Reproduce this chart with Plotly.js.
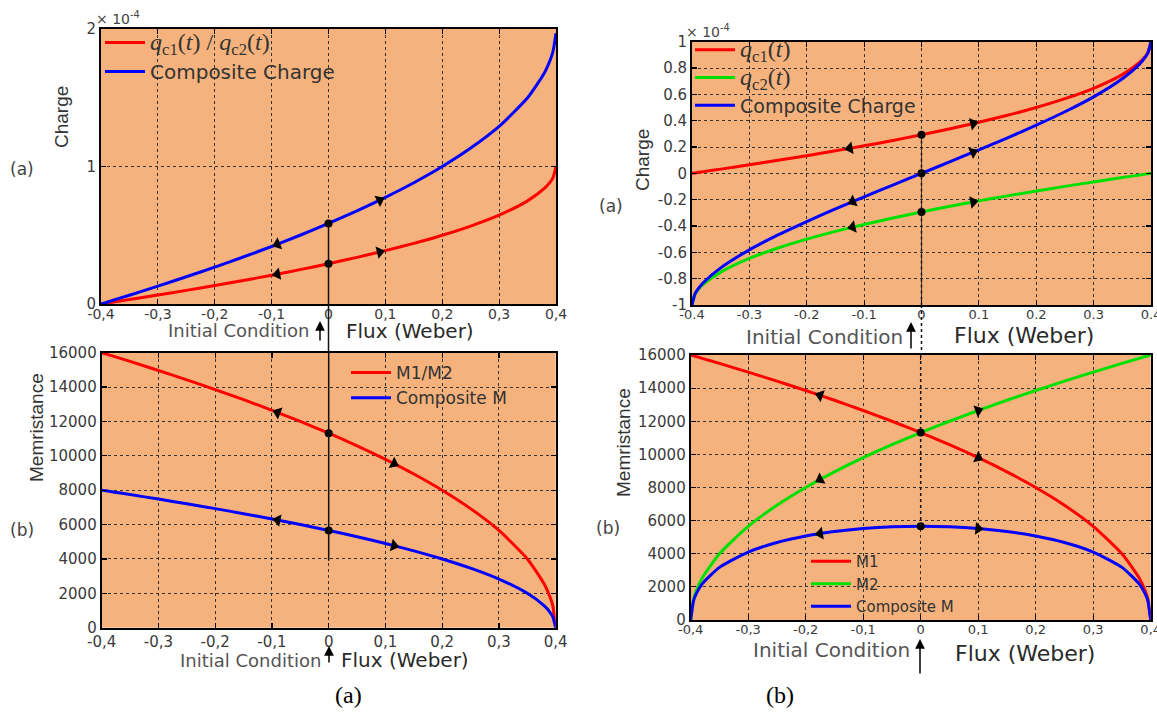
<!DOCTYPE html>
<html>
<head>
<meta charset="utf-8">
<script src="https://cdn.plot.ly/plotly-3.0.1.min.js"></script>
<style>html,body{margin:0;padding:0;background:#fff;}#chart{width:1157px;height:712px;}</style>
</head>
<body>
<div id="chart"></div>
<script>
// ---------------- data ----------------
const flux = [-0.4, -0.395, -0.39, -0.38, -0.35, -0.3, -0.25, -0.2, -0.15, -0.1, -0.05, 0,
              0.05, 0.1, 0.15, 0.2, 0.25, 0.3, 0.35, 0.38, 0.39, 0.395, 0.4];

// charge in units of 1e-4
const qc1 = [0, 0.003, 0.006, 0.013, 0.032, 0.065, 0.099, 0.134, 0.171, 0.209, 0.25, 0.293,
             0.339, 0.388, 0.441, 0.5, 0.567, 0.646, 0.75, 0.842, 0.888, 0.921, 1.0];
const qCompositeA = [0, 0.006, 0.012, 0.026, 0.064, 0.13, 0.198, 0.268, 0.342, 0.418, 0.5, 0.586,
             0.678, 0.776, 0.882, 1.0, 1.134, 1.292, 1.5, 1.684, 1.776, 1.842, 1.97];
const qc2 = [-1, -0.921, -0.888, -0.842, -0.75, -0.646, -0.567, -0.5, -0.441, -0.388, -0.339, -0.293,
             -0.25, -0.209, -0.171, -0.134, -0.099, -0.065, -0.032, -0.013, -0.006, -0.003, 0];
const qCompositeB = [-1, -0.918, -0.882, -0.829, -0.718, -0.581, -0.468, -0.366, -0.27, -0.179, -0.089, 0,
             0.089, 0.179, 0.27, 0.366, 0.468, 0.581, 0.718, 0.829, 0.882, 0.918, 1];

// memristance (ohm)
const m1 = [16000, 15950, 15900, 15799, 15492, 14967, 14422, 13856, 13266, 12649, 12000, 11314,
            10583, 9798, 8944, 8000, 6928, 5657, 4000, 2530, 1789, 1265, 0];
const mCompositeA = [8000, 7975, 7950, 7900, 7746, 7483, 7211, 6928, 6633, 6325, 6000, 5657,
            5292, 4899, 4472, 4000, 3464, 2828, 2000, 1265, 894, 632, 0];
const m2 = [0, 1265, 1789, 2530, 4000, 5657, 6928, 8000, 8944, 9798, 10583, 11314,
            12000, 12649, 13266, 13856, 14422, 14967, 15492, 15799, 15900, 15950, 16000];
const mCompositeB = [0, 1172, 1608, 2181, 3179, 4105, 4680, 5072, 5342, 5521, 5624, 5657,
            5624, 5521, 5342, 5072, 4680, 4105, 3179, 2181, 1608, 1172, 0];

// direction arrows along the curves
const arrTLx = [-0.09, 0.09];
const arrTLred = [0.217, 0.378];
const arrTLblue = [0.435, 0.755];
const arrBLx = [-0.09, 0.115];
const arrBLred = [12522, 9550];
const arrBLblue = [6261, 4775];
const arrTRredX = [-0.125, 0.09];
const arrTRred = [0.19, 0.378];
const arrTRgreenX = [-0.12, 0.09];
const arrTRgreen = [-0.408, -0.217];
const arrTRblueX = [-0.12, 0.09];
const arrTRblue = [-0.214, 0.161];
const arrBRx = [-0.175, 0.1];
const arrBRred = [13565, 9798];
const arrBRgreen = [8485, 12649];
const arrBRblue = [5220, 5521];

// ticks
const fluxTicks = [-0.4, -0.3, -0.2, -0.1, 0, 0.1, 0.2, 0.3, 0.4];
const fluxLabelsComma = ["-0,4", "-0,3", "-0,2", "-0,1", "0", "0,1", "0,2", "0,3", "0,4"];
const fluxLabelsDot = ["-0.4", "-0.3", "-0.2", "-0.1", "0", "0.1", "0.2", "0.3", "0.4"];
const chargeTicksA = [0, 1, 2];
const chargeLabelsA = ["0", "1", "2"];
const chargeTicksB = [-1, -0.8, -0.6, -0.4, -0.2, 0, 0.2, 0.4, 0.6, 0.8, 1];
const chargeLabelsB = ["-1", "-0.8", "-0.6", "-0.4", "-0.2", "0", "0.2", "0.4", "0.6", "0.8", "1"];
const memTicks = [0, 2000, 4000, 6000, 8000, 10000, 12000, 14000, 16000];

// ---------------- styling ----------------
const W = 1157, H = 712;
const X = v => v / W;
const Y = v => 1 - v / H;
const RED = '#ff0000', BLUE = '#0000ff', GREEN = '#00e000';
const iZero = flux.indexOf(0);
const TICKF = 'DejaVu Sans';

function line(x, y, color, name, xa, ya, legend, show) {
  return {x: x, y: y, type: 'scatter', mode: 'lines', name: name,
          line: {color: color, width: 3, shape: 'spline', smoothing: 0.6},
          xaxis: xa, yaxis: ya, legend: legend, showlegend: show !== false, hoverinfo: 'skip'};
}
function arrows(x, y, angles, xa, ya) {
  return {x: x, y: y, type: 'scatter', mode: 'markers', showlegend: false, hoverinfo: 'skip',
          xaxis: xa, yaxis: ya, cliponaxis: false,
          marker: {symbol: ['triangle-left', 'triangle-right'], angle: angles, size: 11, color: '#000'}};
}
function dots(y, xa, ya) {
  return {x: y.map(() => flux[iZero]), y: y, type: 'scatter', mode: 'markers', showlegend: false,
          hoverinfo: 'skip', xaxis: xa, yaxis: ya, marker: {size: 8, color: '#000'}};
}

const qLabel1 = '<span style="font-family:Liberation Serif;font-size:24px"><i>q</i><sub>c1</sub>(<i>t</i>) / <i>q</i><sub>c2</sub>(<i>t</i>)</span>';
const qLabelC1 = '<span style="font-family:Liberation Serif;font-size:24px"><i>q</i><sub>c1</sub>(<i>t</i>)</span>';
const qLabelC2 = '<span style="font-family:Liberation Serif;font-size:24px"><i>q</i><sub>c2</sub>(<i>t</i>)</span>';

const traces = [
  // top-left
  line(flux, qc1, RED, qLabel1, 'x', 'y', 'legend'),
  line(flux, qCompositeA, BLUE, 'Composite Charge', 'x', 'y', 'legend'),
  arrows(arrTLx, arrTLred, [-11, -14], 'x', 'y'),
  arrows(arrTLx, arrTLblue, [-21, -26], 'x', 'y'),
  dots([qCompositeA[iZero], qc1[iZero]], 'x', 'y'),
  // bottom-left
  line(flux, m1, RED, 'M1/M2', 'x2', 'y2', 'legend2'),
  line(flux, mCompositeA, BLUE, 'Composite M', 'x2', 'y2', 'legend2'),
  arrows(arrBLx, arrBLred, [21, 26], 'x2', 'y2'),
  arrows(arrBLx, arrBLblue, [11, 14], 'x2', 'y2'),
  dots([m1[iZero], mCompositeA[iZero]], 'x2', 'y2'),
  // top-right
  line(flux, qc1, RED, qLabelC1, 'x3', 'y3', 'legend3'),
  line(flux, qc2, GREEN, qLabelC2, 'x3', 'y3', 'legend3'),
  line(flux, qCompositeB, BLUE, 'Composite Charge', 'x3', 'y3', 'legend3'),
  arrows(arrTRredX, arrTRred, [-10, -13], 'x3', 'y3'),
  arrows(arrTRgreenX, arrTRgreen, [-13, -10], 'x3', 'y3'),
  arrows(arrTRblueX, arrTRblue, [-23, -23], 'x3', 'y3'),
  dots([qc1[iZero], qCompositeB[iZero], qc2[iZero]], 'x3', 'y3'),
  // bottom-right
  line(flux, m1, RED, 'M1', 'x4', 'y4', 'legend4'),
  line(flux, m2, GREEN, 'M2', 'x4', 'y4', 'legend4'),
  line(flux, mCompositeB, BLUE, 'Composite M', 'x4', 'y4', 'legend4'),
  arrows(arrBRx, arrBRred, [19, 25], 'x4', 'y4'),
  arrows(arrBRx, arrBRgreen, [-28, -20], 'x4', 'y4'),
  arrows(arrBRx, arrBRblue, [-9, 5], 'x4', 'y4'),
  dots([m1[iZero], mCompositeB[iZero]], 'x4', 'y4')
];

function xax(domain, anchor, labels, size, standoff) {
  return {domain: domain, anchor: anchor, range: [-0.4, 0.4], tickvals: fluxTicks, ticktext: labels,
          showgrid: true, gridcolor: '#333', griddash: 'dot', gridwidth: 1, zeroline: false,
          showline: true, linecolor: '#000', linewidth: 2, mirror: 'ticks', ticks: 'inside', ticklen: 5,
          tickcolor: '#000', tickwidth: 1.2, ticklabeloverflow: 'allow', ticklabelstandoff: standoff,
          tickfont: {family: TICKF, size: size, color: '#3a3a3a'}, fixedrange: true};
}
function yax(domain, anchor, range, vals, labels) {
  return {domain: domain, anchor: anchor, range: range, tickvals: vals, ticktext: labels,
          showgrid: true, gridcolor: '#333', griddash: 'dot', gridwidth: 1, zeroline: false,
          showline: true, linecolor: '#000', linewidth: 2, mirror: 'ticks', ticks: 'inside', ticklen: 5,
          tickcolor: '#000', tickwidth: 1.2, ticklabeloverflow: 'allow',
          tickfont: {family: TICKF, size: 15, color: '#3a3a3a'}, fixedrange: true};
}

function legendAt(x, y, size) {
  return {x: X(x), y: Y(y), xanchor: 'left', yanchor: 'top', bgcolor: 'rgba(0,0,0,0)',
          borderwidth: 0, font: {family: TICKF, size: size, color: '#333'}, itemwidth: 40,
          tracegroupgap: 0, traceorder: 'normal'};
}

const annFont = {family: TICKF, size: 18, color: '#555'};
const fluxFont = {family: TICKF, size: 20, color: '#2a2a2a'};
function txt(text, x, y, font, extra) {
  return Object.assign({text: text, x: X(x), y: Y(y), xref: 'paper', yref: 'paper', showarrow: false,
                        xanchor: 'center', yanchor: 'middle', font: font}, extra || {});
}
function upArrow(x, tipY, tailY) {
  return {text: '', x: X(x), y: Y(tipY), xref: 'paper', yref: 'paper', showarrow: true,
          ax: 0, ay: tailY - tipY, arrowhead: 2, arrowsize: 1.3, arrowwidth: 1.5, arrowcolor: '#000'};
}
const titleFont = {family: 'Liberation Sans', size: 19, color: '#333'};
const sideFont = {family: TICKF, size: 17, color: '#444'};

const annotations = [
  txt('Charge', 62, 117, titleFont, {textangle: -90}),
  txt('Charge', 642, 160, titleFont, {textangle: -90}),
  txt('Memristance', 36, 428, titleFont, {textangle: -90}),
  txt('Memristance', 623, 443, titleFont, {textangle: -90}),
  txt('(a)', 22, 169, sideFont),
  txt('(b)', 22, 530, sideFont),
  txt('(a)', 611, 206, sideFont),
  txt('(b)', 608, 528, sideFont),
  txt('× 10<sup>-4</sup>', 94, 18, {family: TICKF, size: 14, color: '#444'}, {xanchor: 'left'}),
  txt('× 10<sup>-4</sup>', 684, 31, {family: TICKF, size: 14, color: '#444'}, {xanchor: 'left'}),
  txt('Initial Condition', 311, 330, annFont, {xanchor: 'right'}),
  txt('Flux (Weber)', 344, 331, fluxFont, {xanchor: 'left'}),
  txt('Initial Condition', 323, 660, annFont, {xanchor: 'right'}),
  txt('Flux (Weber)', 339, 660, fluxFont, {xanchor: 'left'}),
  txt('Initial Condition', 905, 337, Object.assign({}, annFont, {size: 20}), {xanchor: 'right'}),
  txt('Flux (Weber)', 952, 335, Object.assign({}, fluxFont, {size: 22}), {xanchor: 'left'}),
  txt('Initial Condition', 912, 650, Object.assign({}, annFont, {size: 20}), {xanchor: 'right'}),
  txt('Flux (Weber)', 953, 653, Object.assign({}, fluxFont, {size: 22}), {xanchor: 'left'}),
  upArrow(320, 321, 342),
  upArrow(329, 646, 664),
  upArrow(911, 322, 350),
  upArrow(920, 639, 675),
  txt('(a)', 348, 695, {family: 'Liberation Serif', size: 24, color: '#000'}),
  txt('(b)', 780, 695, {family: 'Liberation Serif', size: 24, color: '#000'})
];

const shapes = [
  {type: 'line', xref: 'x', yref: 'y', x0: 0, x1: 0, y0: qCompositeA[iZero], y1: 0, line: {color: '#111', width: 1.5}},
  {type: 'line', xref: 'x', yref: 'paper', x0: 0, x1: 0, y0: Y(304), y1: Y(353), line: {color: '#111', width: 1.5}},
  {type: 'line', xref: 'x2', yref: 'y2', x0: 0, x1: 0, y0: 16000, y1: 3900, line: {color: '#111', width: 1.5}},
  {type: 'line', xref: 'x3', yref: 'y3', x0: 0, x1: 0, y0: qc1[iZero], y1: -1, line: {color: '#111', width: 1.5, dash: 'dot'}},
  {type: 'line', xref: 'x3', yref: 'paper', x0: 0, x1: 0, y0: Y(305), y1: Y(355), line: {color: '#111', width: 1.5, dash: 'dot'}},
  {type: 'line', xref: 'x4', yref: 'y4', x0: 0, x1: 0, y0: 16000, y1: mCompositeB[iZero], line: {color: '#111', width: 1.5, dash: 'dot'}}
];

const layout = {
  width: W, height: H, margin: {l: 0, r: 0, t: 0, b: 0},
  paper_bgcolor: '#ffffff', plot_bgcolor: '#f5b27c',
  xaxis: xax([X(101), X(556)], 'y', fluxLabelsComma, 14, -4),
  yaxis: yax([Y(304), Y(29)], 'x', [0, 2], chargeTicksA, chargeLabelsA),
  xaxis2: xax([X(101.7), X(555.7)], 'y2', fluxLabelsComma, 15, -1),
  yaxis2: yax([Y(627.7), Y(352.7)], 'x2', [0, 16000], memTicks, memTicks.map(String)),
  xaxis3: xax([X(692), X(1151)], 'y3', fluxLabelsDot, 13, -4),
  yaxis3: yax([Y(305), Y(41.7)], 'x3', [-1, 1], chargeTicksB, chargeLabelsB),
  xaxis4: xax([X(690.7), X(1150.7)], 'y4', fluxLabelsComma, 13, -4),
  yaxis4: yax([Y(620), Y(355)], 'x4', [0, 16000], memTicks, memTicks.map(String)),
  legend: legendAt(100, 23, 20),
  legend2: legendAt(346, 355, 17),
  legend3: legendAt(690, 31, 19),
  legend4: legendAt(806, 545, 15),
  annotations: annotations,
  shapes: shapes,
  showlegend: true
};

Plotly.newPlot('chart', traces, layout, {displayModeBar: false, staticPlot: true});
</script>
</body>
</html>
